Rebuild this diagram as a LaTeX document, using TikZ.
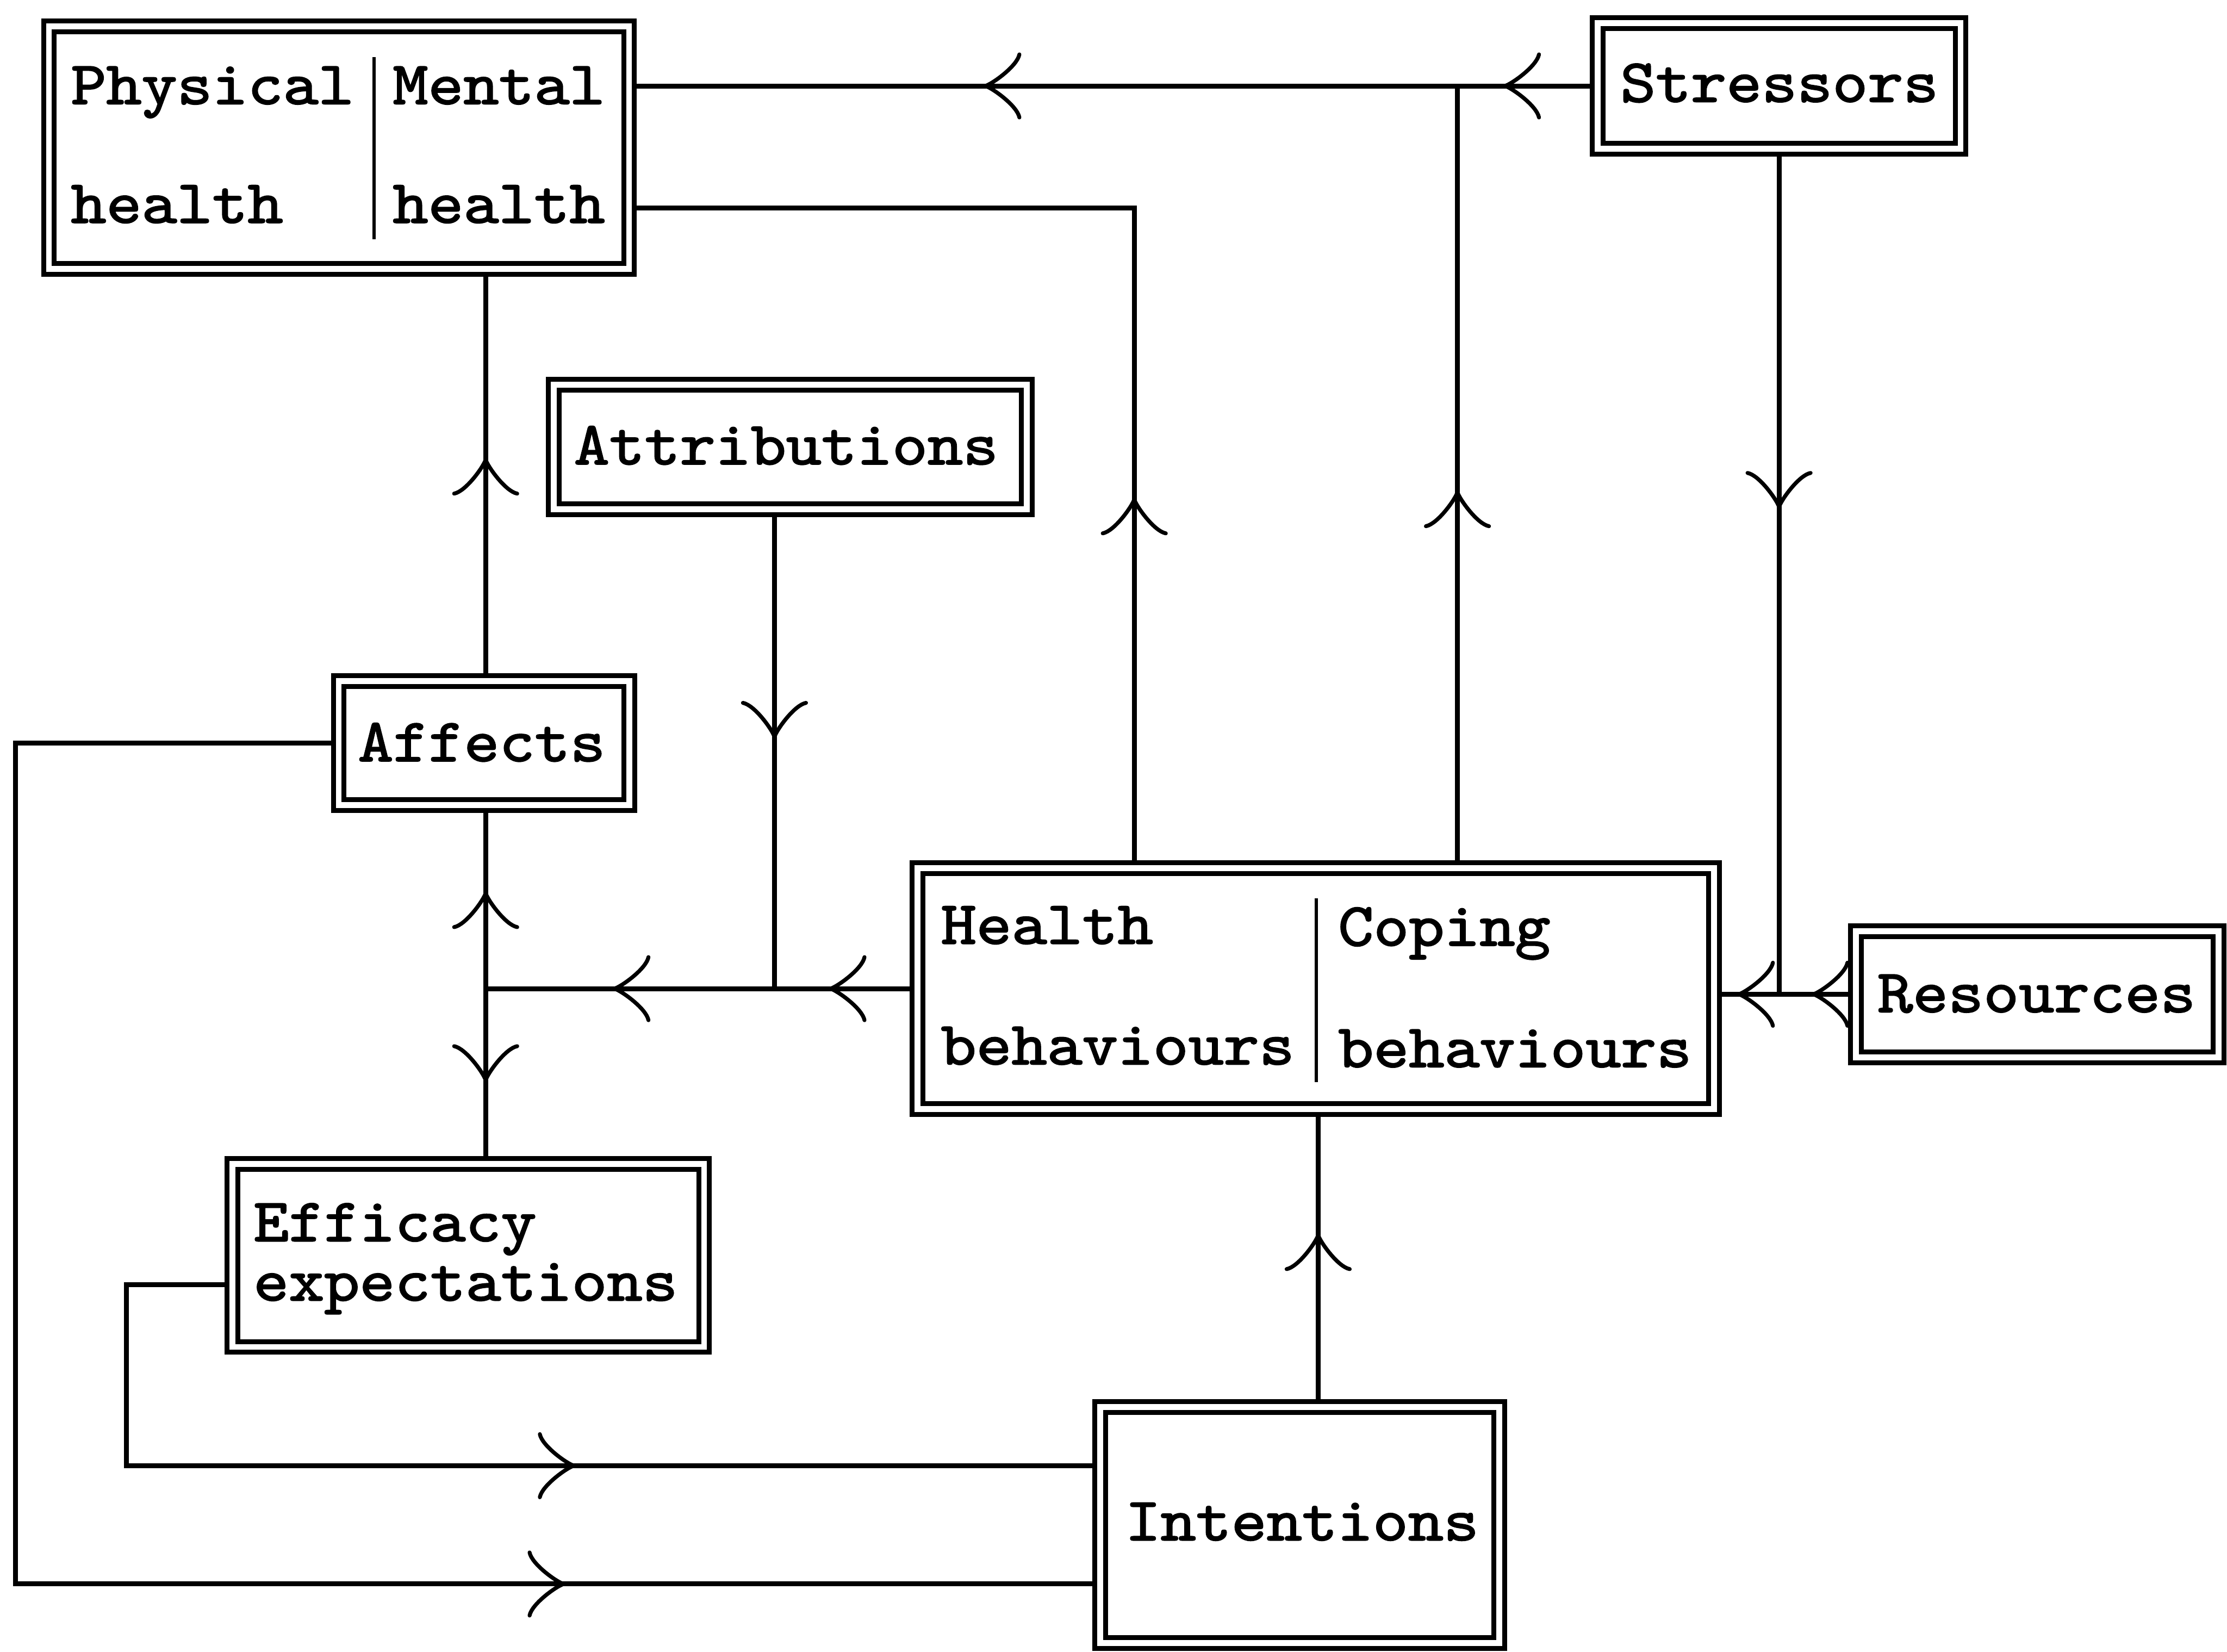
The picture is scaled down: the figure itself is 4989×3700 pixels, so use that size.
\documentclass[tikz,border=0pt]{standalone}
\usepackage{fontspec}
\newfontfamily\tw{lmmono10-regular.otf}[FakeBold=2,FakeStretch=1.1]
\usetikzlibrary{arrows.meta,calc}
\begin{document}
\begin{tikzpicture}[x=0.01cm,y=-0.01cm,
  box/.style={draw, line width=0.11cm, double, double distance=0.13cm, rectangle, inner sep=0pt, outer sep=0.12cm},
  lbl/.style={anchor=base west, inner sep=0pt, outer sep=0pt, font=\tw\fontsize{39pt}{39pt}\selectfont},
  conn/.style={line width=0.11cm},
  ah/.style={line width=0.11cm, -{Classical TikZ Rightarrow[length=0.85cm,width=1.5cm]}},
  divline/.style={line width=0.07cm}]
\useasboundingbox (0,0) rectangle (4989,3700);
% boxes
\node[box, minimum width=12.99cm, minimum height=5.43cm] (pm) at (759.5,330.5) {};
\node[box, minimum width=8.13cm, minimum height=2.81cm] (stress) at (3985.5,192.5) {};
\node[box, minimum width=10.59cm, minimum height=2.79cm] (attr) at (1770.5,1001.5) {};
\node[box, minimum width=6.51cm, minimum height=2.77cm] (aff) at (1084.5,1664.5) {};
\node[box, minimum width=17.83cm, minimum height=5.39cm] (hc) at (2947.5,2214.5) {};
\node[box, minimum width=8.12cm, minimum height=2.82cm] (res) at (4564,2227) {};
\node[box, minimum width=10.56cm, minimum height=4.10cm] (eff) at (1049,2812) {};
\node[box, minimum width=8.93cm, minimum height=5.28cm] (int) at (2911.5,3416) {};
% texts
\node[lbl] (tphys) at (159,233) {Physical};
\node[lbl] (tphysh) at (159,499) {health};
\node[lbl] (tment) at (880,233) {Mental};
\node[lbl] (tmenth) at (880,499) {health};
\draw[divline] (838,128) -- (838,536);
\node[lbl] (tstress) at (3630,228) {Stressors};
\node[lbl] (tattr) at (1286,1040) {Attributions};
\node[lbl] (taff) at (802,1705) {Affects};
\node[lbl] (thealth) at (2108,2114) {Health};
\node[lbl] (thealthb) at (2108,2384) {behaviours};
\node[lbl] (tcop) at (2998,2118) {Coping};
\node[lbl] (tcopb) at (2998,2390) {behaviours};
\draw[divline] (2949,2012) -- (2949,2424);
\node[lbl] (tres) at (4206,2267) {Resources};
\node[lbl] (teff) at (568,2780) {Efficacy};
\node[lbl] (texp) at (568,2913) {expectations};
\node[lbl] (tint) at (2521,3450) {Intentions};
% coordinates
\coordinate (j1) at (3265,192.5);
\coordinate (t1) at (3367,192.5);
\coordinate (t2) at (2203,192.5);
\coordinate (t3) at (3265,1098);
\coordinate (hb) at (2541,466);
\coordinate (t4) at (2541,1114);
\coordinate (t5) at (3985.5,1140);
\coordinate (t6) at (3891,2227);
\coordinate (t7) at (4058,2227);
\coordinate (t8) at (1856,2214.5);
\coordinate (t9) at (1372,2214.5);
\coordinate (ax) at (1735,0);
\coordinate (t10) at (1735,1655);
\coordinate (vx) at (1088,0);
\coordinate (t11) at (1088,1996);
\coordinate (t12) at (1088,2424);
\coordinate (t13) at (1088,1025);
\coordinate (c7a) at (35,1664.5);
\coordinate (c7b) at (35,3548);
\coordinate (t14) at (1267,3548);
\coordinate (c8) at (283,2878);
\coordinate (c8b) at (283,3283);
\coordinate (t15) at (1290,3283);
\coordinate (ix) at (2953,0);
\coordinate (t16) at (2953,2762);
% connectors
\draw[conn] (stress.west) -- (pm.east |- stress.west);
\draw[conn] (j1 |- hc.north) -- (j1);
\draw[conn] (hb |- hc.north) -- (hb) -- (pm.east |- hb);
\draw[conn] (stress.south) -- (stress.south |- res.west) -- (hc.east |- res.west);
\draw[conn] (res.west) -- (stress.south |- res.west);
\draw[conn] (hc.west) -- (vx |- hc.west);
\draw[conn] (ax |- attr.south) -- (ax |- hc.west);
\draw[conn] (vx |- aff.south) -- (vx |- eff.north);
\draw[conn] (vx |- aff.north) -- (vx |- pm.south);
\draw[conn] (aff.west) -- (c7a) -- (c7b) -- (int.west |- c7b);
\draw[conn] (eff.west |- c8) -- (c8) -- (c8b) -- (int.west |- c8b);
\draw[conn] (ix |- int.north) -- (ix |- hc.south);
% arrowheads
\draw[ah] ($(t1)+(40,0)$) -- (t1);
\draw[ah] ($(t2)+(40,0)$) -- (t2);
\draw[ah] ($(t3)+(0,40)$) -- (t3);
\draw[ah] ($(t4)+(0,40)$) -- (t4);
\draw[ah] ($(t5)+(0,-40)$) -- (t5);
\draw[ah] ($(t6)+(40,0)$) -- (t6);
\draw[ah] ($(t7)+(40,0)$) -- (t7);
\draw[ah] ($(t8)+(40,0)$) -- (t8);
\draw[ah] ($(t9)+(40,0)$) -- (t9);
\draw[ah] ($(t10)+(0,-40)$) -- (t10);
\draw[ah] ($(t11)+(0,40)$) -- (t11);
\draw[ah] ($(t12)+(0,-40)$) -- (t12);
\draw[ah] ($(t13)+(0,40)$) -- (t13);
\draw[ah] ($(t14)+(-40,0)$) -- (t14);
\draw[ah] ($(t15)+(-40,0)$) -- (t15);
\draw[ah] ($(t16)+(0,40)$) -- (t16);
\end{tikzpicture}
\end{document}
